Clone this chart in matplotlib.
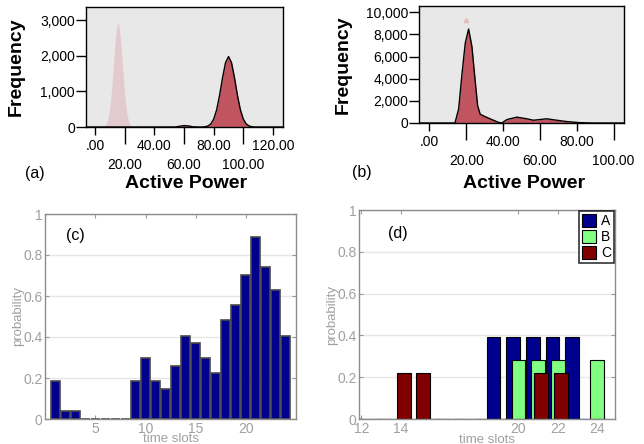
import matplotlib.pyplot as plt

plt.rcParams['font.family'] = ['Liberation Sans', 'DejaVu Sans']

# (a) active power frequency curves
a_pale_x = [6.5, 7.5, 8.5, 9.5, 10.5, 11.5, 12.5, 13.5, 14.5, 15.5,
            16.5, 17.5, 18.5, 19.5, 20.5, 21.5, 22.5, 23.5, 24.5]
a_pale_y = [33, 84, 192, 395, 727, 1200, 1770, 2340, 2760, 2920,
            2760, 2340, 1770, 1200, 727, 395, 192, 84, 33]
a_red_x = [-6, 50, 54, 57, 60, 63, 66, 70, 72, 74, 76, 78, 80, 82, 84, 86, 88, 90,
           92, 94, 96, 98, 100, 102, 104, 106, 108, 126]
a_red_y = [0, 0, 0, 20, 40, 30, 5, 0, 0, 7, 26, 83, 218, 482, 895, 1390, 1810, 1980,
           1810, 1390, 895, 482, 218, 83, 26, 7, 0, 0]

# (b) active power frequency curve
b_x = [-6, 13.9, 15.9, 17.7, 19.5, 21.3, 23.1, 24.9, 26.2, 27.6, 30.3, 33.9, 37.5,
       39.3, 42.1, 47.5, 52.9, 56.5, 63.7, 69.1, 74.5, 81.7, 88.9, 106]
b_y = [0, 0, 1260, 4400, 7230, 8490, 6920, 3770, 1570, 790, 570, 310, 60,
       0, 310, 530, 380, 250, 380, 250, 130, 30, 0, 0]

# (c) probability per time slot
c_slots = list(range(1, 25))
c_prob = [0.185, 0.037, 0.037, 0, 0, 0, 0, 0, 0.185, 0.296, 0.185, 0.148,
          0.259, 0.407, 0.370, 0.296, 0.222, 0.481, 0.556, 0.704, 0.889, 0.741,
          0.630, 0.407]

# (d) probability per time slot, three groups
d_slots = list(range(12, 25))
d_a = [0, 0, 0, 0, 0, 0, 0, 0.39, 0.39, 0.39, 0.39, 0.39, 0]
d_b = [0, 0, 0, 0, 0, 0, 0, 0, 0.28, 0.28, 0.28, 0, 0.28]
d_c = [0, 0, 0.22, 0.22, 0, 0, 0, 0, 0, 0.22, 0.22, 0, 0]

fig = plt.figure(figsize=(6.44, 4.44), dpi=100)


def spss_style(ax, xmajor, xminor, yticks, ylabels, ymax, xlim):
    ax.set_facecolor('#e8e8e8')
    for s in ax.spines.values():
        s.set_color('black')
        s.set_linewidth(1)
    ax.set_xlim(*xlim)
    ax.set_ylim(0, ymax)
    ax.set_yticks(yticks)
    ax.set_yticklabels(ylabels)
    ax.set_xticks(xmajor)
    ax.set_xticklabels(['.00' if v == 0 else f'{v}.00' for v in xmajor])
    ax.set_xticks(xminor, minor=True)
    ax.set_xticklabels([f'{v}.00' for v in xminor], minor=True)
    ax.tick_params(axis='y', direction='out', length=7, width=1, pad=1, labelsize=10)
    ax.tick_params(axis='x', which='major', direction='out', length=6, width=1,
                   pad=2.5, labelsize=10)
    ax.tick_params(axis='x', which='minor', direction='out', length=12, width=1,
                   pad=10.5, labelsize=10)


# panel (a)
ax1 = fig.add_axes([86/644, 1 - 127/444, 197/644, 120/444])
ax1.fill_between(a_pale_x, a_pale_y, color='#e3cace', lw=0)
ax1.fill_between(a_red_x, a_red_y, color='#c0555f', lw=0)
ax1.plot(a_red_x, a_red_y, color='black', lw=1)
spss_style(ax1, [0, 40, 80, 120], [20, 60, 100], [0, 1000, 2000, 3000],
           ['0', '1,000', '2,000', '3,000'], 3370, (-6, 126.7))
fig.text(16.7/644, 1 - 67/444, 'Frequency', rotation=90, fontsize=14,
         fontweight='bold', ha='center', va='center')
fig.text(186/644, 1 - 184/444, 'Active Power', fontsize=14, fontweight='bold',
         ha='center', va='center')
fig.text(35/644, 1 - 173/444, '(a)', fontsize=11.5, ha='center', va='center')

# panel (b)
ax2 = fig.add_axes([419/644, 1 - 123/444, 205/644, 117/444])
ax2.fill_between(b_x, b_y, color='#c0555f', lw=0)
ax2.plot(b_x, b_y, color='black', lw=1)
ax2.plot([19.7], [9270], marker='^', ms=3, color='#e8b8bc', lw=0)
spss_style(ax2, [0, 40, 80], [20, 60, 100], [0, 2000, 4000, 6000, 8000, 10000],
           ['0', '2,000', '4,000', '6,000', '8,000', '10,000'], 10570, (-5.6, 105.6))
fig.text(343.7/644, 1 - 65/444, 'Frequency', rotation=90, fontsize=14,
         fontweight='bold', ha='center', va='center')
fig.text(524.5/644, 1 - 184/444, 'Active Power', fontsize=14, fontweight='bold',
         ha='center', va='center')
fig.text(362/644, 1 - 172/444, '(b)', fontsize=11.5, ha='center', va='center')


def matlab_style(ax, xticks, xlim):
    for s in ax.spines.values():
        s.set_color('#8c8c8c')
        s.set_linewidth(1)
    ax.set_xlim(*xlim)
    ax.set_ylim(0, 1)
    ax.set_xticks(xticks)
    ax.set_yticks([0, 0.2, 0.4, 0.6, 0.8, 1])
    ax.set_yticklabels(['0', '0.2', '0.4', '0.6', '0.8', '1'])
    ax.tick_params(direction='in', length=3, color='#9a9a9a', labelcolor='#a0a0a0',
                   labelsize=10, top=True, right=True, pad=2)
    ax.yaxis.grid(True, color='#e6e6e6', lw=1)
    ax.set_axisbelow(True)
    ax.set_xlabel('time slots', fontsize=9.5, color='#a0a0a0', va='center')
    ax.set_ylabel('probability', fontsize=9.5, color='#a0a0a0', va='center')


# panel (c)
ax3 = fig.add_axes([45.3/644, 1 - 419/444, 250.7/644, 205/444])
ax3.bar(c_slots, c_prob, width=0.9, color='#00008c', edgecolor='#4a4a4a', lw=1.2)
matlab_style(ax3, [5, 10, 15, 20], (0, 25))
ax3.xaxis.set_label_coords(0.5, -0.098)
ax3.yaxis.set_label_coords(-0.109, 0.5)
ax3.text(0.118, 0.893, '(c)', transform=ax3.transAxes, fontsize=11.5,
         ha='center', va='center')

# panel (d)
ax4 = fig.add_axes([359.3/644, 1 - 419/444, 256/644, 209/444])
ax4.bar([s - 0.27 for s in d_slots], d_a, width=0.7, color='#00008f',
        edgecolor='black', lw=0.8, label='A')
ax4.bar(d_slots, d_b, width=0.7, color='#80ff80', edgecolor='black', lw=0.8, label='B')
ax4.bar([s + 0.16 for s in d_slots], d_c, width=0.7, color='#800000',
        edgecolor='black', lw=0.8, label='C')
matlab_style(ax4, [12, 14, 20, 22, 24], (11.9, 24.93))
ax4.xaxis.set_label_coords(0.5, -0.1)
ax4.yaxis.set_label_coords(-0.107, 0.5)
ax4.text(0.151, 0.889, '(d)', transform=ax4.transAxes, fontsize=11.5,
         ha='center', va='center')
leg = ax4.legend(loc='upper right', fontsize=10, frameon=True, fancybox=False,
                 handlelength=1.0, handleheight=1.0, handletextpad=0.4,
                 borderpad=0.2, labelspacing=0.15, borderaxespad=0.1)
leg.get_frame().set_edgecolor('black')
leg.get_frame().set_linewidth(1.2)

fig.savefig('out.png', dpi=100)
